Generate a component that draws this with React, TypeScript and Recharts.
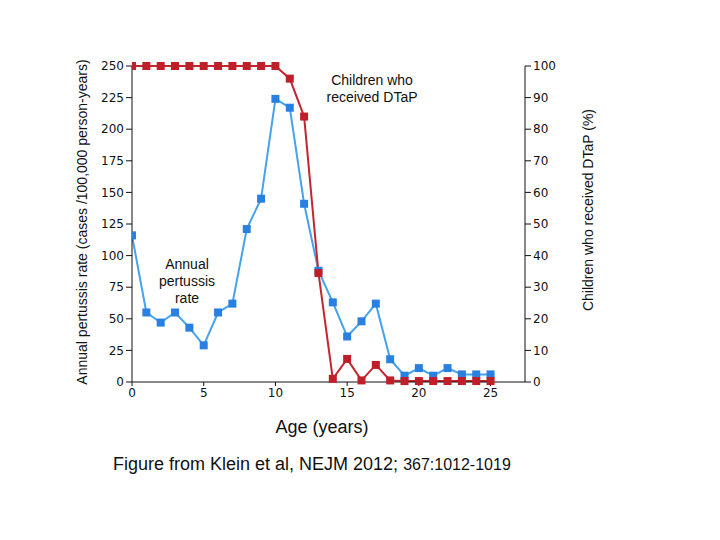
import React from 'react';
import { LineChart, Line, XAxis, YAxis } from 'recharts';

const ages = [0,1,2,3,4,5,6,7,8,9,10,11,12,13,14,15,16,17,18,19,20,21,22,23,24,25];
const pertussisRate = [116,55,47,55,43,29,55,62,121,145,224,217,141,88,63,36,48,62,18,5,11,5,11,6,6,6];
const dtapPercent = [100,100,100,100,100,100,100,100,100,100,100,96,84,34.5,1,7.3,0.5,5.4,0.5,0.3,0.3,0.3,0.3,0.3,0.3,0.3];
const xTicks = [0,5,10,15,20,25];
const leftTicks = [0,25,50,75,100,125,150,175,200,225,250];
const rightTicks = [0,10,20,30,40,50,60,70,80,90,100];

const data = ages.map((a, i) => ({ age: a, rate: pertussisRate[i], dtap: dtapPercent[i] }));

const BLUE_LINE = '#45a2ec';
const BLUE_DOT = '#2a80e0';
const RED_LINE = '#c3262e';
const RED_DOT = '#bf1f28';

const squareDot = (color: string) => (props: any) => {
  const { cx, cy, index } = props;
  if (cx == null || cy == null) return <g key={index} />;
  return <rect key={index} x={cx - 4} y={cy - 4} width={8} height={8} fill={color} />;
};

const tickStyle = { fontFamily: 'DejaVu Sans', fontSize: 12, fill: '#111' };
const sans = 'Liberation Sans, Arial, sans-serif';

export default function App() {
  return (
    <div style={{ position: 'absolute', left: 0, top: 0, width: 720, height: 540, background: '#fff' }}>
      <LineChart width={720} height={540} data={data} margin={{ top: 66, right: 135, bottom: 128, left: 72 }}>
        <XAxis
          dataKey="age"
          type="number"
          domain={[0, 27.4]}
          ticks={xTicks}
          tick={tickStyle}
          tickSize={4}
          height={30}
          stroke="#111"
          allowDataOverflow
        />
        <YAxis
          yAxisId="left"
          orientation="left"
          domain={[0, 250]}
          ticks={leftTicks}
          tick={tickStyle}
          tickSize={6}
          width={60}
          stroke="#111"
          interval={0}
        />
        <YAxis
          yAxisId="right"
          orientation="right"
          domain={[0, 100]}
          ticks={rightTicks}
          tick={tickStyle}
          tickSize={6}
          width={60}
          stroke="#111"
          interval={0}
        />
        <Line
          yAxisId="left"
          dataKey="rate"
          type="linear"
          stroke={BLUE_LINE}
          strokeWidth={2}
          dot={squareDot(BLUE_DOT)}
          isAnimationActive={false}
        />
        <Line
          yAxisId="right"
          dataKey="dtap"
          type="linear"
          stroke={RED_LINE}
          strokeWidth={2}
          dot={squareDot(RED_DOT)}
          isAnimationActive={false}
        />
      </LineChart>

      <div style={{ position: 'absolute', left: 82, top: 222, width: 0, height: 0 }}>
        <div style={{ position: 'absolute', transform: 'translate(-50%, -50%) rotate(-90deg)', whiteSpace: 'nowrap', fontFamily: sans, fontSize: 14, color: '#111' }}>
          Annual pertussis rate (cases /100,000 person-years)
        </div>
      </div>
      <div style={{ position: 'absolute', left: 588, top: 210, width: 0, height: 0 }}>
        <div style={{ position: 'absolute', transform: 'translate(-50%, -50%) rotate(-90deg)', whiteSpace: 'nowrap', fontFamily: sans, fontSize: 14, color: '#111' }}>
          Children who received DTaP (%)
        </div>
      </div>
      <div style={{ position: 'absolute', left: 322, top: 427, transform: 'translate(-50%, -50%)', whiteSpace: 'nowrap', fontFamily: sans, fontSize: 18, color: '#111' }}>
        Age (years)
      </div>
      <div style={{ position: 'absolute', left: 372, top: 89, transform: 'translate(-50%, -50%)', textAlign: 'center', fontFamily: sans, fontSize: 14, lineHeight: '17px', color: '#111' }}>
        Children who<br />received DTaP
      </div>
      <div style={{ position: 'absolute', left: 187, top: 281, transform: 'translate(-50%, -50%)', textAlign: 'center', fontFamily: sans, fontSize: 14, lineHeight: '17px', color: '#111' }}>
        Annual<br />pertussis<br />rate
      </div>
      <div style={{ position: 'absolute', left: 113, top: 464, transform: 'translateY(-50%)', whiteSpace: 'nowrap', fontFamily: sans, fontSize: 18, color: '#111' }}>
        Figure from Klein et al, NEJM 2012; <span style={{ fontSize: 16 }}>367:1012-1019</span>
      </div>
    </div>
  );
}
